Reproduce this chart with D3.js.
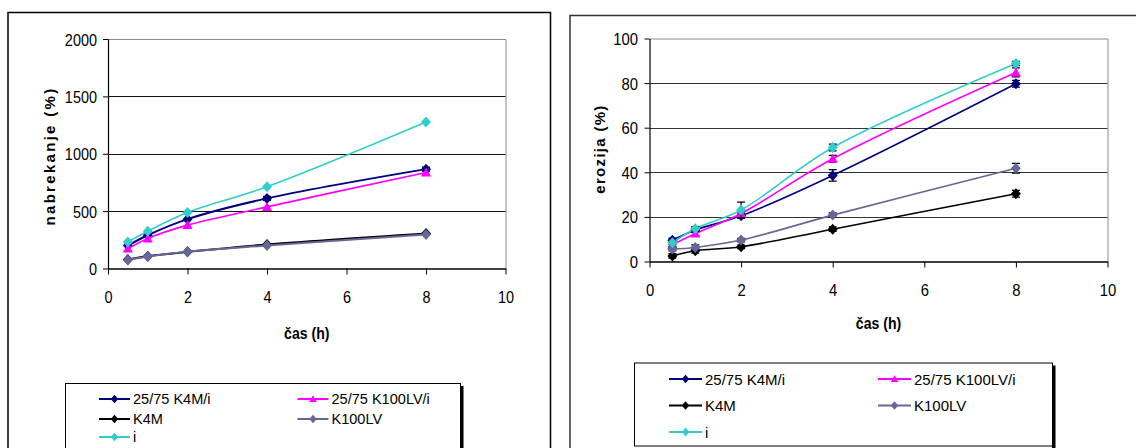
<!DOCTYPE html>
<html><head><meta charset="utf-8">
<script src="https://cdn.jsdelivr.net/npm/d3@7"></script>
<style>html,body{margin:0;padding:0;background:#fff;} svg{display:block;font-family:"Liberation Sans",Arial,sans-serif}</style>
</head><body><svg id="c" width="1136" height="448"></svg>
<script>
// ---------- data ----------
const hours = [0.5, 1, 2, 4, 8];
const seriesNames = ["25/75 K4M/i", "25/75 K100LV/i", "K4M", "K100LV", "i"];
const seriesColors = ["#000080", "#FF00FF", "#000000", "#666699", "#33CCCC"];
const seriesMarkers = ["diamond", "triangle", "diamond", "diamond", "diamond"];

const swell_K4Mi   = [200, 290, 430, 611, 866];
const swell_K100LVi= [174, 262, 378, 537, 837];
const swell_K4M    = [78, 107, 145, 209, 305];
const swell_K100LV = [75, 105, 146, 200, 297];
const swell_i      = [232, 325, 488, 712, 1276];
const swellErr_K4Mi = [0, 0, 0, 18, 18];

const erosion_K4Mi   = [9.5, 14.1, 20.5, 38.6, 79.7];
const erosion_K100LVi= [7.5, 12.6, 21.5, 46.1, 84.8];
const erosion_K4M    = [2.5, 4.8, 6.6, 14.5, 30.4];
const erosion_K100LV = [5.6, 6.3, 9.6, 20.8, 41.8];
const erosion_i      = [8.4, 14.7, 23.1, 51.1, 88.8];
const erosionErr_K4Mi   = [1, 1, 1.2, 2.6, 1.5];
const erosionErr_K100LVi= [0.8, 1, 1, 1.5, 2];
const erosionErr_K4M    = [1, 1, 0.8, 1, 1.5];
const erosionErr_K100LV = [0.8, 1.2, 0.8, 1, 2.2];
const erosionErr_i      = [0.8, 1, 3.5, 1.5, 1];

const xTicks = [0, 2, 4, 6, 8, 10];
const swellTicks = [0, 500, 1000, 1500, 2000];
const erosionTicks = [0, 20, 40, 60, 80, 100];
const xTitle = "čas (h)";
const swellTitle = "nabrekanje (%)";
const erosionTitle = "erozija (%)";

// ---------- drawing ----------
const svg = d3.select("#c");

function markerPath(type, s) {
  if (type === "triangle") {
    const h = s * 1.0;
    return `M0,${-h}L${s},${h * 0.8}L${-s},${h * 0.8}Z`;
  }
  return `M0,${-s * 1.1}L${s},0L0,${s * 1.1}L${-s},0Z`;
}

function drawPanel(cfg) {
  const g = svg.append("g");
  g.append("rect").attr("x", cfg.frame[0]).attr("y", cfg.frame[1])
    .attr("width", cfg.frame[2]).attr("height", cfg.frame[3])
    .attr("fill", "none").attr("stroke", cfg.frameColor).attr("stroke-width", 1.5);

  const x = d3.scaleLinear().domain([0, 10]).range([cfg.x0, cfg.x1]);
  const y = d3.scaleLinear().domain([cfg.yTicks[0], cfg.yTicks[cfg.yTicks.length - 1]]).range([cfg.y1, cfg.y0]);

  g.append("path").attr("d", `M${cfg.x0},${cfg.y0 + 0.5}H${cfg.x1 + 0.5}V${cfg.y1}`)
    .attr("fill", "none").attr("stroke", "#8c8c8c").attr("stroke-width", 1);
  g.selectAll(".grid").data(cfg.yTicks.slice(1, -1)).enter().append("line")
    .attr("x1", cfg.x0).attr("x2", cfg.x1)
    .attr("y1", d => Math.round(y(d)) + 0.5).attr("y2", d => Math.round(y(d)) + 0.5)
    .attr("stroke", cfg.gridColor).attr("stroke-width", 1);

  const ya = g.append("g").attr("transform", `translate(${cfg.x0},0)`)
    .call(d3.axisLeft(y).tickValues(cfg.yTicks).tickSize(5).tickSizeOuter(0).tickFormat(d3.format("d")));
  ya.select(".domain").attr("stroke", "#000").attr("stroke-width", 1.2);
  ya.selectAll(".tick line").attr("stroke", "#000");
  ya.selectAll(".tick text").attr("x", null).attr("dy", null)
    .attr("transform", `translate(${cfg.yLabelRight - cfg.x0},${cfg.tickFs * 0.36}) scale(${cfg.tickSx},1)`)
    .attr("font-size", cfg.tickFs).attr("font-family", "Liberation Sans, Arial").attr("fill", "#000");

  const xa = g.append("g").attr("transform", `translate(0,${cfg.y1})`)
    .call(d3.axisBottom(x).tickValues(xTicks).tickSize(6).tickSizeOuter(0).tickFormat(d3.format("d")));
  xa.select(".domain").attr("stroke", "#000").attr("stroke-width", 1.6);
  xa.selectAll(".tick line").attr("stroke", "#000");
  xa.selectAll(".tick text").attr("y", null).attr("dy", null)
    .attr("transform", `translate(0,${cfg.xLabelBase - cfg.y1}) scale(${cfg.tickSx},1)`)
    .attr("font-size", cfg.tickFs).attr("font-family", "Liberation Sans, Arial").attr("fill", "#000");

  g.append("text").attr("transform", `translate(${cfg.yTitleX},${cfg.yTitleY}) rotate(-90)`)
    .attr("text-anchor", "middle").attr("font-weight", "bold").attr("font-size", cfg.yTitleFs)
    .attr("letter-spacing", cfg.yTitleLs).text(cfg.yTitle);
  g.append("text").attr("transform", `translate(${(cfg.x0 + cfg.x1) / 2},${cfg.xTitleBase}) scale(0.88,1)`)
    .attr("text-anchor", "middle").attr("font-weight", "bold").attr("font-size", 16).text(xTitle);

  const line = d3.line().x((d, i) => x(hours[i])).y(d => y(d)).curve(d3.curveCatmullRom.alpha(0.5));
  cfg.series.forEach((vals, si) => {
    const col = seriesColors[si];
    g.append("path").attr("d", line(vals)).attr("fill", "none").attr("stroke", col)
      .attr("stroke-width", cfg.lineW[si]);
    const errs = cfg.errs[si];
    if (errs) {
      vals.forEach((v, i) => {
        if (!errs[i]) return;
        const xp = x(hours[i]), yt = y(v + errs[i]), yb = y(v - errs[i]);
        g.append("path").attr("d", `M${xp},${yt}V${yb}M${xp - 4},${yt}H${xp + 4}M${xp - 4},${yb}H${xp + 4}`)
          .attr("stroke", "#000").attr("stroke-width", 1.2).attr("fill", "none");
      });
    }
    g.selectAll(null).data(vals).enter().append("path")
      .attr("transform", (d, i) => `translate(${x(hours[i])},${y(d)})`)
      .attr("d", markerPath(seriesMarkers[si], 5)).attr("fill", col);
  });

  const L = cfg.legend;
  g.append("rect").attr("x", L.x + L.w).attr("y", L.y + 3).attr("width", 3.5).attr("height", L.h).attr("fill", "#000");
  g.append("rect").attr("x", L.x + 0.5).attr("y", L.y + 0.5).attr("width", L.w).attr("height", L.h)
    .attr("fill", "#fff").attr("stroke", "#000").attr("stroke-width", 1);
  seriesNames.forEach((name, si) => {
    const col = si % 2, row = Math.floor(si / 2);
    const lx = L.cols[col], ly = L.rows[row];
    g.append("line").attr("x1", lx).attr("x2", lx + L.lineLen).attr("y1", ly).attr("y2", ly)
      .attr("stroke", seriesColors[si]).attr("stroke-width", 2);
    g.append("path").attr("transform", `translate(${lx + L.lineLen / 2},${ly})`)
      .attr("d", markerPath(seriesMarkers[si], 3.8)).attr("fill", seriesColors[si]);
    g.append("text").attr("transform", `translate(${lx + L.lineLen + 3},${ly + L.fs * 0.36}) scale(${L.sx},1)`)
      .attr("font-size", L.fs).text(name);
  });
}

drawPanel({
  frame: [8, 12.5, 542.5, 460], frameColor: "#000",
  x0: 108, x1: 505.5, y0: 39, y1: 268.5,
  yTicks: swellTicks, gridColor: "#111",
  yLabelRight: 97, xLabelBase: 303, tickFs: 17, tickSx: 0.85,
  yTitle: swellTitle, yTitleX: 55, yTitleY: 156, yTitleFs: 15, yTitleLs: 2.3,
  xTitleBase: 339,
  series: [swell_K4Mi, swell_K100LVi, swell_K4M, swell_K100LV, swell_i],
  errs: [swellErr_K4Mi, null, null, null, null],
  lineW: [2, 1.6, 2, 2, 1.6],
  legend: { x: 65, y: 383, w: 395, h: 80, cols: [99, 297.5], rows: [399, 419, 437], lineLen: 31, fs: 15, sx: 0.97 }
});

drawPanel({
  frame: [570, 15.5, 600, 460], frameColor: "#333",
  x0: 649.5, x1: 1107.5, y0: 38.5, y1: 261.5,
  yTicks: erosionTicks, gridColor: "#333",
  yLabelRight: 638, xLabelBase: 295.5, tickFs: 16.5, tickSx: 0.9,
  yTitle: erosionTitle, yTitleX: 605, yTitleY: 149, yTitleFs: 15, yTitleLs: 1.3,
  xTitleBase: 329,
  series: [erosion_K4Mi, erosion_K100LVi, erosion_K4M, erosion_K100LV, erosion_i],
  errs: [erosionErr_K4Mi, erosionErr_K100LVi, erosionErr_K4M, erosionErr_K100LV, erosionErr_i],
  lineW: [1.6, 1.6, 1.6, 1.6, 1.6],
  legend: { x: 634, y: 362.5, w: 418, h: 83, cols: [669, 878], rows: [379, 405.5, 432], lineLen: 33, fs: 15.5, sx: 0.97 }
});
</script></body></html>
